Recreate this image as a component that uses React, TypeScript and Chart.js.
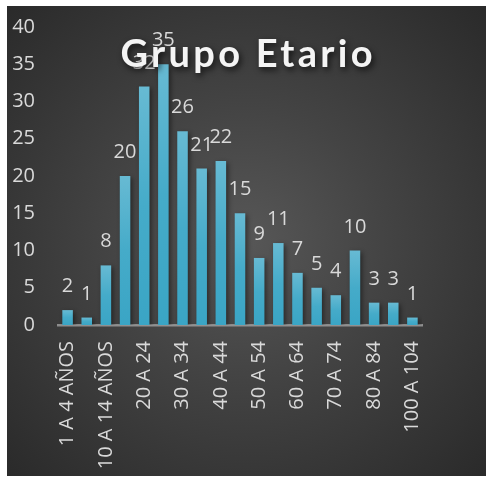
import React, { useEffect, useRef } from "react";
import { Chart, registerables } from "chart.js";

Chart.register(...registerables);

const categories: string[] = [
  "1 A 4 AÑOS", "5 A 9 AÑOS", "10 A 14 AÑOS", "15 A 19", "20 A 24", "25 A 29",
  "30 A 34", "35 A 39", "40 A 44", "45 A 49", "50 A 54", "55 A 59", "60 A 64",
  "65 A 69", "70 A 74", "75 A 79", "80 A 84", "85 A 89", "100 A 104",
];
const values: number[] = [2, 1, 8, 20, 32, 35, 26, 21, 22, 15, 9, 11, 7, 5, 4, 10, 3, 3, 1];
const yTicks: number[] = [0, 5, 10, 15, 20, 25, 30, 35, 40];
const title = "Grupo Etario";

const FONT = "'Open Sans', Lato, sans-serif";
const TITLE_FONT = "Lato, 'Open Sans', sans-serif";
const TEXT = "#d9d9d9";
const FS = 20;

const barShadow = {
  id: "barShadow",
  beforeDatasetsDraw(chart: any) {
    const ctx = chart.ctx;
    ctx.save();
    ctx.shadowColor = "rgba(0,0,0,0.45)";
    ctx.shadowBlur = 5;
    ctx.shadowOffsetX = 2;
    ctx.shadowOffsetY = 2;
  },
  afterDatasetsDraw(chart: any) {
    chart.ctx.restore();
  },
};

const valueLabels = {
  id: "valueLabels",
  afterDatasetsDraw(chart: any) {
    const ctx = chart.ctx;
    const meta = chart.getDatasetMeta(0);
    ctx.save();
    ctx.font = `${FS}px ${FONT}`;
    ctx.fillStyle = TEXT;
    ctx.textAlign = "center";
    ctx.textBaseline = "alphabetic";
    meta.data.forEach((bar: any, i: number) => {
      ctx.fillText(String(values[i]), bar.x, bar.y - 18);
    });
    ctx.restore();
  },
};

const titlePlugin = {
  id: "overlayTitle",
  afterDraw(chart: any) {
    const ctx = chart.ctx;
    ctx.save();
    ctx.font = `bold 38px ${TITLE_FONT}`;
    const target = 252;
    const plain = ctx.measureText(title).width;
    const spacing = Math.max(0, (target - plain) / (title.length - 1));
    (ctx as any).letterSpacing = `${spacing}px`;
    ctx.fillStyle = "#f4f4f4";
    ctx.textAlign = "left";
    ctx.textBaseline = "alphabetic";
    ctx.shadowColor = "rgba(0,0,0,0.7)";
    ctx.shadowBlur = 6;
    ctx.shadowOffsetX = 2;
    ctx.shadowOffsetY = 3;
    const x = chart.width / 2 - target / 2;
    ctx.fillText(title, x, 61);
    ctx.restore();
  },
};

export default function App() {
  const ref = useRef<HTMLCanvasElement | null>(null);

  useEffect(() => {
    if (!ref.current) return;
    const chart = new Chart(ref.current, {
      type: "bar",
      data: {
        labels: categories,
        datasets: [
          {
            data: values,
            barPercentage: 0.55,
            categoryPercentage: 1,
            backgroundColor: (c: any) => {
              const ch = c.chart;
              if (!ch.chartArea || !ch.scales?.y) return "#4bafcb";
              const y = ch.scales.y;
              const top = y.getPixelForValue(c.raw ?? 0);
              const bottom = y.getPixelForValue(0);
              if (!isFinite(top) || !isFinite(bottom) || top === bottom) return "#4bafcb";
              const g = ch.ctx.createLinearGradient(0, top, 0, bottom);
              g.addColorStop(0, "#67bad3");
              g.addColorStop(0.5, "#45abc9");
              g.addColorStop(1, "#3aa5c5");
              return g;
            },
            borderWidth: 0,
          },
        ],
      },
      options: {
        responsive: false,
        animation: false,
        layout: { padding: { left: 0, right: 64, top: 21, bottom: 0 } },
        plugins: {
          legend: { display: false },
          title: { display: false },
          tooltip: { enabled: false },
        },
        scales: {
          x: {
            grid: { display: false, drawTicks: false },
            border: { display: true, color: "rgba(170,170,170,0.75)", width: 2.5 },
            ticks: {
              autoSkip: false,
              maxRotation: 90,
              minRotation: 90,
              padding: 16,
              color: TEXT,
              font: { family: FONT, size: FS },
              callback: (_v: any, i: number) => (i % 2 === 0 ? categories[i] : ""),
            },
            afterFit: (s: any) => {
              s.height = 151;
            },
          },
          y: {
            min: 0,
            max: 40,
            afterBuildTicks: (s: any) => {
              s.ticks = yTicks.map((v) => ({ value: v }));
            },
            grid: { display: false, drawTicks: false },
            border: { display: false },
            ticks: {
              padding: 23,
              color: TEXT,
              font: { family: FONT, size: FS },
            },
            afterFit: (s: any) => {
              s.width = 51;
              s.paddingTop = 0;
              s.paddingBottom = 0;
            },
          },
        },
      },
      plugins: [barShadow, valueLabels, titlePlugin],
    } as any);
    return () => chart.destroy();
  }, []);

  return (
    <div
      style={{
        position: "absolute",
        left: 7,
        top: 6,
        width: 479,
        height: 470,
        background:
          "radial-gradient(ellipse at 50% 50%, #575757 0%, #444 40%, #2a2a2a 100%)",
      }}
    >
      <canvas ref={ref} width={479} height={470} style={{ display: "block" }} />
    </div>
  );
}
